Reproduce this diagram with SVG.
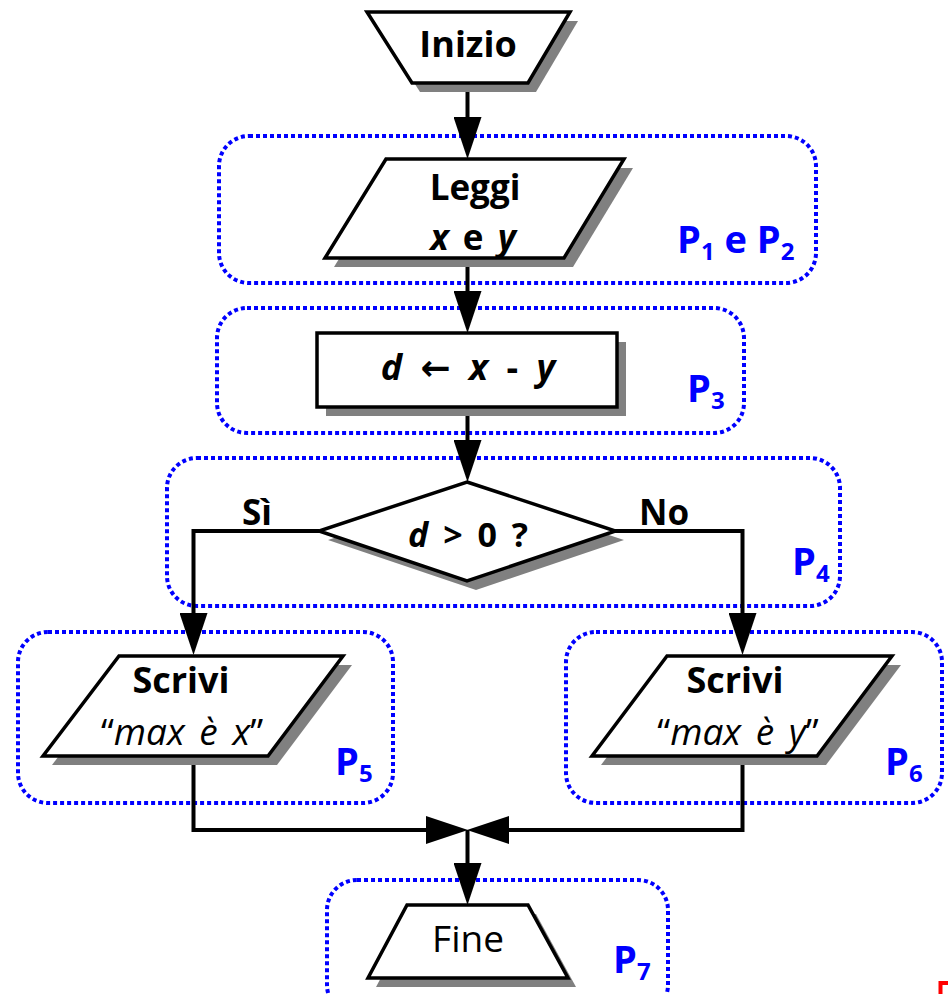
<svg xmlns="http://www.w3.org/2000/svg" width="948" height="994" viewBox="0 0 948 994">
<defs>
<style>
.bg{fill:#ffffff}
.shape{fill:#ffffff;stroke:#000000;stroke-width:3.5;stroke-linejoin:miter}
.shadow{fill:#808080;stroke:none}
.grp{fill:none;stroke:#0000ff;stroke-width:4;stroke-dasharray:4 3}
.conn{fill:none;stroke:#000000;stroke-width:4;stroke-linejoin:miter}
.t{font-family:"Open Sans","DejaVu Sans",sans-serif;fill:#000000;text-anchor:middle}
.b{font-weight:bold}
.i{font-style:italic}
.lbl{font-family:"Open Sans","DejaVu Sans",sans-serif;font-weight:bold;fill:#0000ff;font-size:38px}
.sub{font-size:24px}
</style>
<marker id="arr" viewBox="0 0 42 28" refX="32" refY="14" markerWidth="42" markerHeight="28" markerUnits="userSpaceOnUse" orient="auto">
<path d="M0,0 L42,14 L0,28 Z" fill="#000000"/>
</marker>
</defs>
<rect class="bg" x="0" y="0" width="948" height="994"/>

<g id="groups">
<rect id="g12" class="grp" x="219" y="136" width="597" height="147" rx="30"/>
<rect id="g3" class="grp" x="217" y="308" width="527" height="125" rx="30"/>
<rect id="g4" class="grp" x="167" y="458" width="673" height="148" rx="30"/>
<rect id="g5" class="grp" x="18" y="632" width="375" height="171" rx="30"/>
<rect id="g6" class="grp" x="566" y="632" width="376" height="171" rx="30"/>
<rect id="g7" class="grp" x="327" y="880" width="341" height="135" rx="30"/>
</g>

<g id="connectors">
<path class="conn" d="M467.5,83 V149" marker-end="url(#arr)"/>
<path class="conn" d="M467.5,258 V323" marker-end="url(#arr)"/>
<path class="conn" d="M467.5,407 V472" marker-end="url(#arr)"/>
<path class="conn" d="M319,531 H193.5 V645" marker-end="url(#arr)"/>
<path class="conn" d="M615,531 H742.5 V645" marker-end="url(#arr)"/>
<path class="conn" d="M193.5,756 V830 H458" marker-end="url(#arr)"/>
<path class="conn" d="M742.5,756 V830 H477" marker-end="url(#arr)"/>
<path class="conn" d="M467.5,830 V895" marker-end="url(#arr)"/>
</g>

<g id="inizio">
<polygon class="shadow" points="375,21 578,21 536,92 420,92"/>
<polygon class="shape" points="367,12 570,12 528,83 412,83"/>
<text class="t b" x="468" y="57" font-size="36">Inizio</text>
</g>

<g id="leggi">
<polygon class="shadow" points="395,168 633,168 573,267 334,267"/>
<polygon class="shape" points="386,159 624,159 564,258 325,258"/>
<text class="t b" x="475" y="200" font-size="35">Leggi</text>
<text class="t b" x="473" y="250" font-size="35" word-spacing="5"><tspan class="i">x</tspan> e <tspan class="i">y</tspan></text>
</g>

<g id="assign">
<rect class="shadow" x="326" y="342" width="300" height="74"/>
<rect class="shape" x="317" y="333" width="300" height="74"/>
<text class="t b" x="468" y="380" font-size="36" word-spacing="9"><tspan class="i">d</tspan> ← <tspan class="i">x</tspan> - <tspan class="i">y</tspan></text>
</g>

<g id="decision">
<polygon class="shadow" points="476,491 624,540 476,590 328,540"/>
<polygon class="shape" points="467,482 615.5,531 467,581 319,531"/>
<text class="t b" x="468" y="547" font-size="34" word-spacing="6"><tspan class="i">d</tspan> &gt; 0 ?</text>
<text class="t b" x="257" y="525" font-size="35">Sì</text>
<text class="t b" x="664" y="525" font-size="35">No</text>
</g>

<g id="scrivi-x">
<polygon class="shadow" points="128,665 352,665 277,765 52,765"/>
<polygon class="shape" points="119,656 343,656 268,756 43,756"/>
<text class="t b" x="181" y="693" font-size="36">Scrivi</text>
<text class="t" x="182" y="745" font-size="37" word-spacing="5">“<tspan class="i">max è x</tspan>”</text>
</g>

<g id="scrivi-y">
<polygon class="shadow" points="676,665 901,665 826,765 601,765"/>
<polygon class="shape" points="667,656 892,656 817,756 592,756"/>
<text class="t b" x="735" y="693" font-size="36">Scrivi</text>
<text class="t" x="738" y="745" font-size="37" word-spacing="5">“<tspan class="i">max è y</tspan>”</text>
</g>

<g id="fine">
<polygon class="shadow" points="415,914 536,914 576,987 376,987"/>
<polygon class="shape" points="407,905 528,905 568,978 368,978"/>
<text class="t" x="468" y="952" font-size="37">Fine</text>
</g>

<g id="labels">
<text class="lbl" x="677" y="253">P<tspan class="sub" dy="7">1</tspan><tspan dy="-7"> e P</tspan><tspan class="sub" dy="7">2</tspan></text>
<text class="lbl" x="687" y="402">P<tspan class="sub" dy="7">3</tspan></text>
<text class="lbl" x="792" y="575">P<tspan class="sub" dy="7">4</tspan></text>
<text class="lbl" x="335" y="775">P<tspan class="sub" dy="7">5</tspan></text>
<text class="lbl" x="885" y="775">P<tspan class="sub" dy="7">6</tspan></text>
<text class="lbl" x="613" y="973">P<tspan class="sub" dy="7">7</tspan></text>
</g>

<path d="M940.5,994 V983 H948" fill="none" stroke="#ff0000" stroke-width="4"/>
</svg>
